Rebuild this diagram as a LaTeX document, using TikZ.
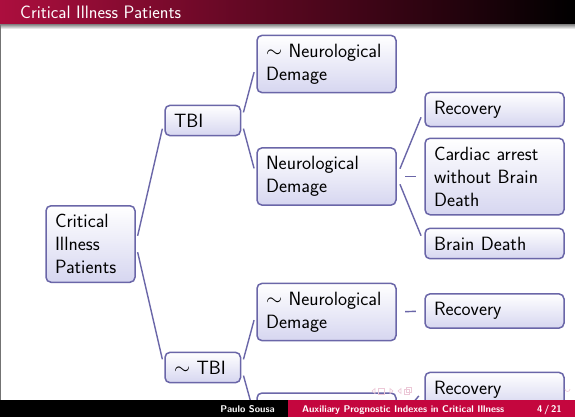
\documentclass[tikz,border=0pt]{standalone}
\usepackage{tikz}
\definecolor{boxline}{RGB}{106,102,168}
\definecolor{boxfill}{RGB}{214,214,240}
\definecolor{headred}{RGB}{172,14,62}
\definecolor{footred}{RGB}{196,6,62}
\definecolor{navpink}{RGB}{236,200,215}
\newcommand\bxfont{\sffamily\fontsize{19.2}{23}\selectfont}
\newcommand\hdfont{\sffamily\fontsize{18}{20}\selectfont}
\newcommand\ftfont{\sffamily\bfseries\fontsize{9.7}{11}\selectfont}
\begin{document}
\begin{tikzpicture}[x=1pt,y=-1pt,
  box/.style={draw=boxline, line width=1.5pt, rounded corners=5pt,
    top color=white, bottom color=boxfill, inner xsep=9pt, inner ysep=8.5pt, align=left,
    font=\bxfont, anchor=center},
  colA/.style={box, text width=71pt},
  colB/.style={box, text width=57.5pt},
  colC/.style={box, text width=121pt},
  link/.style={draw=boxline, line width=1.4pt, shorten <=8.4pt, shorten >=8.4pt},
  foottext/.style={inner sep=0pt, text=white, font=\ftfont},
  navmark/.style={draw=navpink, line width=0.6pt}]
\useasboundingbox (0,0) rectangle (575,417);
\clip (0,0) rectangle (575,417);
\fill[white] (0,0) rectangle (575,417);
% header
\shade[left color=headred, right color=black] (0,0) rectangle (575,25);
\shade[top color=black!40, bottom color=white] (0,25) rectangle (575,29);
\node[anchor=base west, inner sep=0pt, text=white, font=\hdfont] (title) at (20,18.5) {Critical Illness Patients};
\draw[black!55, line width=1.2pt] (0.6,25) -- (0.6,400);
% nodes
\node[colA] (cip) at (90.5,244) {Critical\\Illness\\Patients};
\node[colB] (tbi) at (202.75,120.5) {TBI};
\node[colB] (ntbi) at (202.75,367.5) {$\sim$ TBI};
\node[colC] (nnd1) at (326.5,64) {$\sim$ Neurological\\Demage};
\node[colC] (nd) at (326.5,176.5) {Neurological\\Demage};
\node[colC] (rec1) at (494.5,109.5) {Recovery};
\node[colC] (card) at (494.5,176.5) {Cardiac arrest\\without Brain\\Death};
\node[colC] (bd) at (494.5,243.5) {Brain Death};
\node[colC] (nnd2) at (326.5,312) {$\sim$ Neurological\\Demage};
\node[colC] (rec2) at (494.5,311) {Recovery};
\node[colC, minimum height=58pt] (nd2) at (326.5,422) {};
\node[colC] (rec3) at (494.5,389.5) {Recovery};
% links
\draw[link] (cip.east) -- (tbi.west);
\draw[link] (cip.east) -- (ntbi.west);
\draw[link] (tbi.east) -- (nnd1.west);
\draw[link] (tbi.east) -- (nd.west);
\draw[link] (nd.east) -- (rec1.west);
\draw[link] (nd.east) -- (card.west);
\draw[link] (nd.east) -- (bd.west);
\draw[link] (ntbi.east) -- (nnd2.west);
\draw[link] (ntbi.east) -- (nd2.west);
\draw[link] (nnd2.east) -- (rec2.west);
\draw[link] (nd2.east) -- (rec3.west);
% navigation symbols (faint)
\draw[navmark] (372,391) -- (375,388.5) -- (375,393.5) -- cycle;
\draw[navmark] (378,388) rectangle (384,394);
\draw[navmark] (390,388.5) -- (393,391) -- (390,393.5) -- cycle;
\draw[navmark] (398,391) -- (401,388.5) -- (401,393.5) -- cycle;
\draw[navmark] (404,389) rectangle (409,394);
\draw[navmark] (406,387) rectangle (411,392);
\draw[navmark] (565,389) arc (180:0:2.5);
% footer
\fill[black] (0,400) rectangle (288,417);
\fill[footred] (288,400) rectangle (575,417);
\node[foottext, anchor=base east] (auth) at (275,412) {Paulo Sousa};
\node[foottext, anchor=base west] (ftitle) at (302,412) {Auxiliary Prognostic Indexes in Critical Illness};
\node[foottext, anchor=base east] (pg) at (562,412) {4\,/\,21};
\end{tikzpicture}
\end{document}
